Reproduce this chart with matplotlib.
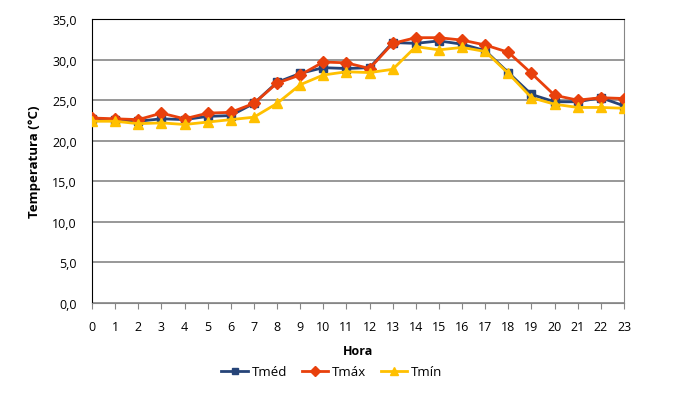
import matplotlib
matplotlib.use("Agg")
import matplotlib.pyplot as plt
import matplotlib.ticker as mpticker

plt.rcParams['font.family'] = ['Open Sans', 'DejaVu Sans']

horas = list(range(24))
t_med = [22.7, 22.6, 22.4, 22.7, 22.6, 23.0, 23.1, 24.6, 27.2, 28.3, 29.0, 28.9,
         29.0, 32.1, 32.0, 32.3, 31.9, 31.1, 28.4, 25.7, 24.8, 24.8, 25.3, 24.3]
t_max = [22.8, 22.7, 22.6, 23.4, 22.7, 23.4, 23.5, 24.6, 27.1, 28.1, 29.7, 29.6,
         28.9, 32.0, 32.7, 32.7, 32.4, 31.8, 30.9, 28.3, 25.6, 25.0, 25.3, 25.2]
t_min = [22.4, 22.4, 22.1, 22.2, 22.0, 22.3, 22.6, 22.9, 24.6, 26.9, 28.1, 28.5,
         28.4, 28.8, 31.6, 31.2, 31.5, 31.0, 28.3, 25.3, 24.5, 24.1, 24.1, 24.0]

fig = plt.figure(figsize=(6.73, 4.02), dpi=100)
ax = fig.add_axes([0.1367, 0.2438, 0.7905, 0.7064])

ax.plot(horas, t_med, color='#264478', marker='s', ms=6, lw=2, label='Tméd', zorder=3)
ax.plot(horas, t_max, color='#E8400C', marker='D', ms=6, lw=2, label='Tmáx', zorder=4)
ax.plot(horas, t_min, color='#FFC000', marker='^', ms=7, lw=2, label='Tmín', zorder=5)

ax.set_xlim(0, 23)
ax.set_ylim(0, 35)
ax.set_xticks(horas)
ax.yaxis.set_major_locator(mpticker.MultipleLocator(5))
ax.yaxis.set_major_formatter(mpticker.FuncFormatter(lambda v, p: f"{v:.1f}".replace('.', ',')))
ax.grid(axis='y', color='#868686', lw=1.2)
ax.set_axisbelow(True)

for s in ['left', 'top']:
    ax.spines[s].set_color('black')
for s in ['bottom', 'right']:
    ax.spines[s].set_color('#868686')
ax.tick_params(axis='y', length=0, pad=11, labelsize=9)
ax.tick_params(axis='x', length=4, color='#868686', labelsize=9, pad=8)

ax.set_xlabel('Hora', fontweight='bold', fontsize=9, labelpad=8)
ax.set_ylabel('Temperatura (°C)', fontweight='bold', fontsize=9.5, labelpad=8)

fig.legend(loc='upper center', bbox_to_anchor=(0.493, 0.118), ncol=3, frameon=False,
           fontsize=9.5, handlelength=2.0, columnspacing=1.1, handletextpad=0.3,
           markerscale=0.8)

fig.savefig('out.png', dpi=100)
